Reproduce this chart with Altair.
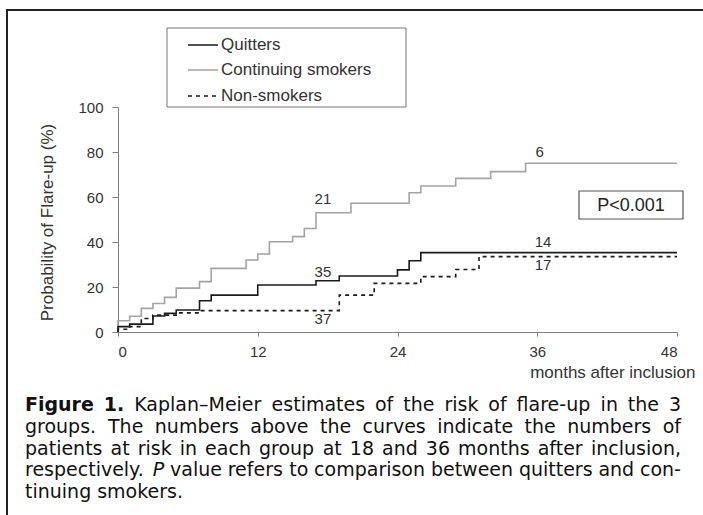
import altair as alt
import pandas as pd

# ---------------- data ----------------
groups = ["Quitters", "Continuing smokers", "Non-smokers"]

quit_months = [0, 0, 1, 3, 4, 5, 7, 8, 12, 17, 19, 24, 25, 26, 48]
quit_pct = [0, 2.4, 3.5, 7.1, 8.3, 9.8, 13.9, 16.4, 20.9, 22.8, 24.9, 27.6, 31.7, 35.3, 35.3]

cont_months = [0, 0, 1, 2, 3, 4, 5, 7, 8, 11, 12, 13, 15, 16, 17, 20, 25, 26, 29, 32, 35, 48]
cont_pct = [0, 5.0, 7.0, 10.5, 12.7, 15.4, 19.5, 22.4, 28.3, 32.0, 34.7, 40.1, 42.4, 46.0,
            53.0, 57.2, 61.9, 64.9, 68.3, 71.3, 75.0, 75.0]

non_months = [0, 0, 1, 2, 3, 5, 7, 19, 22, 26, 29, 31, 48]
non_pct = [0, 1.2, 2.4, 6.0, 7.5, 8.5, 9.5, 16.4, 21.6, 24.6, 27.8, 33.5, 33.5]

# numbers at risk (18 and 36 months)
risk_text = ["21", "6", "35", "14", "37", "17"]
risk_month = [17.6, 36.2, 17.6, 36.5, 17.6, 36.5]
risk_pct = [59, 80, 26.8, 40, 5.6, 29.8]

x_ticks = [0, 12, 24, 36, 48]
y_ticks = [0, 20, 40, 60, 80, 100]

# caption: list of lines, each a list of (word, style)
caption = [
    [("Figure", "b"), ("1.", "b")] + [(w, "") for w in "Kaplan–Meier estimates of the risk of flare-up in the 3".split()],
    [(w, "") for w in "groups. The numbers above the curves indicate the numbers of".split()],
    [(w, "") for w in "patients at risk in each group at 18 and 36 months after inclusion,".split()],
    [("respectively.", ""), ("P", "i")] + [(w, "") for w in "value refers to comparison between quitters and con-".split()],
    [(w, "") for w in "tinuing smokers.".split()],
]

# ---------------- tables ----------------
rows = []
for g, ms, ps in [("Continuing smokers", cont_months, cont_pct),
                  ("Quitters", quit_months, quit_pct),
                  ("Non-smokers", non_months, non_pct)]:
    for i, (m, p) in enumerate(zip(ms, ps)):
        rows.append({"group": g, "month": m, "pct": p, "order": i})
df = pd.DataFrame(rows)

risk_df = pd.DataFrame({"text": risk_text, "month": risk_month, "pct": risk_pct})

AX_FONT = "Liberation Sans"

xscale = alt.Scale(domain=[0, 48], nice=False, zero=False)
yscale = alt.Scale(domain=[0, 100], nice=False)

x_enc = alt.X("month:Q", scale=xscale, axis=alt.Axis(
    values=x_ticks, title="months after inclusion", grid=False,
    domainColor="#808080", tickColor="#808080", tickSize=4,
    labelFont=AX_FONT, labelFontSize=15, labelColor="#333", labelPadding=8,
    titleFont=AX_FONT, titleFontSize=17, titleFontWeight="normal", titleColor="#333",
    titleX=577, titleY=40, titleAlign="right", titleBaseline="middle"))
y_enc = alt.Y("pct:Q", scale=yscale, axis=alt.Axis(
    values=y_ticks, title="Probability of Flare-up (%)", grid=False,
    domainColor="#808080", tickColor="#808080", tickSize=6,
    labelFont=AX_FONT, labelFontSize=15, labelColor="#333", labelPadding=9,
    titleFont=AX_FONT, titleFontSize=17, titleFontWeight="normal", titleColor="#333",
    titleX=-71, titleY=115, titleAngle=270, titleAlign="center", titleBaseline="middle"))

color_scale = alt.Scale(domain=groups, range=["#1a1a1a", "#a3a3a3", "#1a1a1a"])
dash_scale = alt.Scale(domain=groups, range=[[1, 0], [1, 0], [4, 4]])

lines = alt.Chart(df).mark_line(interpolate="step-after", strokeWidth=1.6).encode(
    x=x_enc, y=y_enc,
    color=alt.Color("group:N", scale=color_scale, legend=None),
    strokeDash=alt.StrokeDash("group:N", scale=dash_scale, legend=None),
    detail="group:N",
    order="order:Q",
)

risk_labels = alt.Chart(risk_df).mark_text(
    font=AX_FONT, fontSize=15, color="#333", baseline="middle", align="center"
).encode(x="month:Q", y="pct:Q", text="text:N")

one = pd.DataFrame({"k": [0]})

# outer frame
frame = alt.Chart(one).mark_rect(fillOpacity=0, stroke="#222", strokeWidth=2).encode(
    x=alt.value(-111), x2=alt.value(640), y=alt.value(-97), y2=alt.value(440))

# legend box (manual, to match the boxed legend)
leg_box = alt.Chart(one).mark_rect(fill="white", stroke="#777", strokeWidth=1).encode(
    x=alt.value(49), x2=alt.value(288), y=alt.value(-79), y2=alt.value(0))
row_y = [-62, -37, -11]
leg_layers = []
leg_colors = ["#1a1a1a", "#a3a3a3", "#1a1a1a"]
leg_dash = [[1, 0], [1, 0], [4, 4]]
for i, g in enumerate(groups):
    d = pd.DataFrame({"label": [g]})
    leg_layers.append(alt.Chart(d).mark_rule(strokeWidth=1.6, color=leg_colors[i],
                                             strokeDash=leg_dash[i]).encode(
        x=alt.value(70), x2=alt.value(100), y=alt.value(row_y[i])))
    leg_layers.append(alt.Chart(d).mark_text(
        font=AX_FONT, fontSize=17, color="#333", align="left", baseline="middle").encode(
        x=alt.value(103), y=alt.value(row_y[i]), text="label:N"))

# P value box
pbox = alt.Chart(one).mark_rect(fill="white", stroke="#555", strokeWidth=1.2).encode(
    x=alt.value(461), x2=alt.value(565), y=alt.value(84), y2=alt.value(112))
ptext = alt.Chart(pd.DataFrame({"t": ["P<0.001"]})).mark_text(
    font=AX_FONT, fontSize=18, color="#222", align="center", baseline="middle").encode(
    x=alt.value(513), y=alt.value(98.5), text="t:N")

# ---------------- caption (justified) ----------------
CAP_FONT = "DejaVu Sans"
CAP_SIZE = 19
CAP_LEFT, CAP_RIGHT = -93, 563
cap_y = [298, 320, 342, 363, 385]

# DejaVu Sans advance widths (units per em = 2048)
REG = {" ": 651, ",": 651, "-": 739, ".": 651, "–": 1024,
       "0": 1303, "1": 1303, "2": 1303, "3": 1303, "4": 1303, "5": 1303, "6": 1303,
       "7": 1303, "8": 1303, "9": 1303,
       "K": 1343, "M": 1767, "P": 1235, "T": 1251,
       "a": 1255, "b": 1300, "c": 1126, "d": 1300, "e": 1260, "f": 721, "g": 1300,
       "h": 1298, "i": 569, "j": 569, "k": 1186, "l": 569, "m": 1995, "n": 1298,
       "o": 1253, "p": 1300, "q": 1300, "r": 842, "s": 1067, "t": 803, "u": 1298,
       "v": 1212, "w": 1675, "x": 1212, "y": 1212, "z": 1075}
BOLD = {"F": 1399, "i": 702, "g": 1466, "u": 1458, "r": 1011, "e": 1389,
        "1": 1425, ".": 780, " ": 713}


def width(word, style):
    tab = BOLD if style == "b" else REG
    return sum(tab.get(c, 1200) for c in word) / 2048 * CAP_SIZE


cap_layers = []
for li, words in enumerate(caption):
    widths = [width(w, s) for w, s in words]
    if li < len(caption) - 1:
        gap = (CAP_RIGHT - CAP_LEFT - sum(widths)) / (len(words) - 1)
    else:
        gap = REG[" "] / 2048 * CAP_SIZE
    xpos = CAP_LEFT
    for (w, s), wd in zip(words, widths):
        kw = {}
        if s == "b":
            kw["fontWeight"] = "bold"
        if s == "i":
            kw["fontStyle"] = "italic"
        cap_layers.append(alt.Chart(pd.DataFrame({"t": [w]})).mark_text(
            font=CAP_FONT, fontSize=CAP_SIZE, color="#111", align="left",
            baseline="middle", **kw).encode(
            x=alt.value(round(xpos, 1)), y=alt.value(cap_y[li]), text="t:N"))
        xpos += wd + gap

chart = alt.layer(
    frame, leg_box, *leg_layers, lines, risk_labels, pbox, ptext, *cap_layers
).properties(
    width=559, height=225,
    padding={"left": 118, "top": 107, "right": 26, "bottom": 183},
    autosize=alt.AutoSizeParams(type="none"),
    background="white",
).configure_view(strokeWidth=0)

chart.save("out.html", embed_options={"renderer": "svg", "actions": False})
